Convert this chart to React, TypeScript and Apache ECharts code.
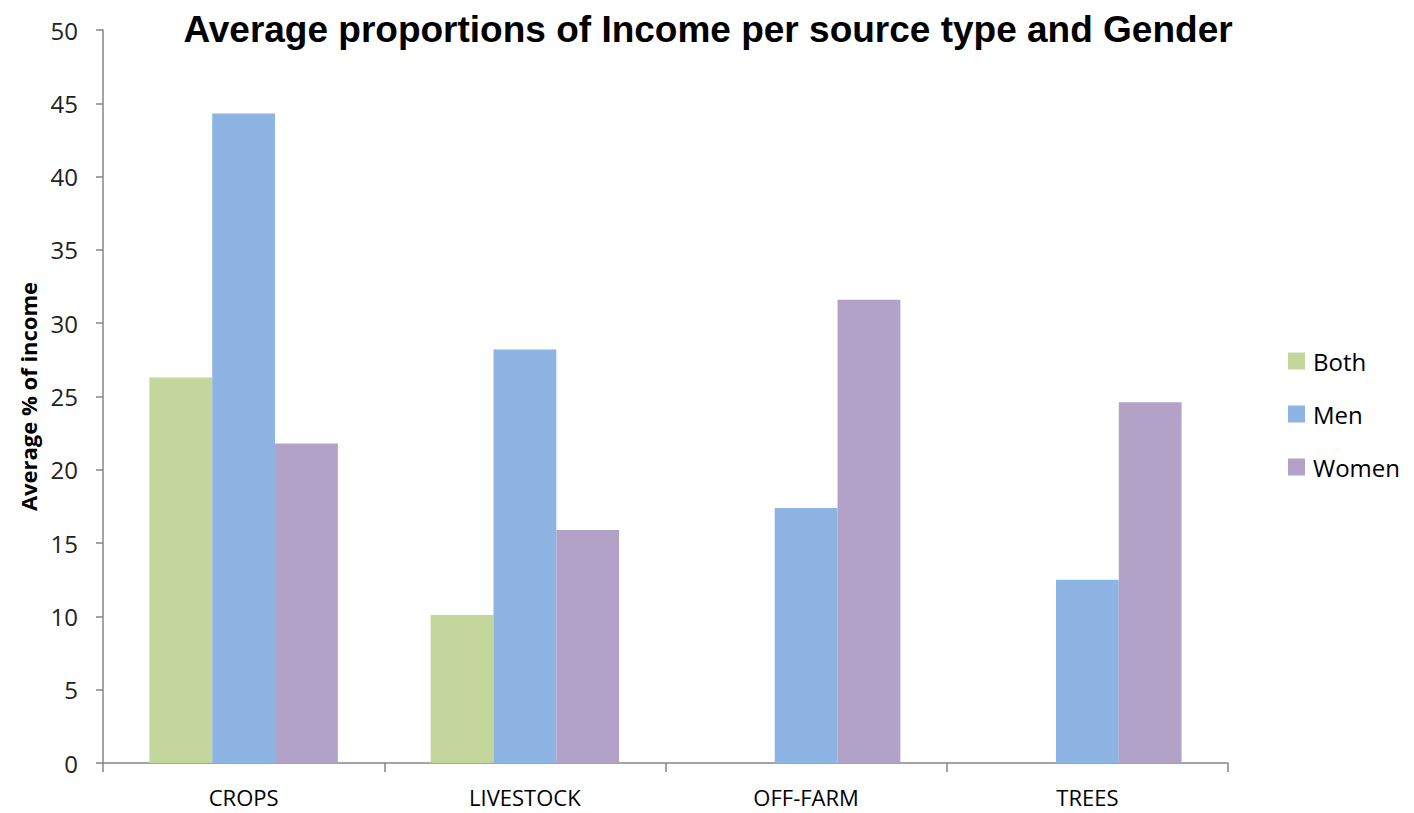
import React, { useEffect, useRef } from "react";
import * as echarts from "echarts";

const categories = ["CROPS", "LIVESTOCK", "OFF-FARM", "TREES"];
const bothValues = [26.3, 10.1, 0, 0];
const menValues = [44.3, 28.2, 17.4, 12.5];
const womenValues = [21.8, 15.9, 31.6, 24.6];
const seriesNames = ["Both", "Men", "Women"];
const seriesColors = ["#C3D69B", "#8EB4E3", "#B3A2C7"];

export default function App() {
  const ref = useRef<HTMLDivElement>(null);
  useEffect(() => {
    if (!ref.current) return;
    const chart = echarts.init(ref.current, undefined, { renderer: "svg" });
    const values = [bothValues, menValues, womenValues];
    chart.setOption({
      animation: false,
      backgroundColor: "#ffffff",
      title: {
        text: "Average proportions of Income per source type and Gender",
        left: 700,
        textAlign: "center",
        top: 0,
        padding: 0,
        textStyle: {
          fontFamily: "Liberation Sans",
          fontWeight: "bold",
          fontSize: 37,
          lineHeight: 42,
          color: "#000",
        },
      },
      legend: {
        orient: "vertical",
        left: 1280,
        top: 341,
        padding: 0,
        itemWidth: 17,
        itemHeight: 17,
        itemGap: 29,
        icon: "rect",
        textStyle: { fontFamily: "Open Sans", fontSize: 24, lineHeight: 24, color: "#000", padding: [0, 0, 0, 3] },
        data: seriesNames,
      },
      grid: { left: 95, right: 178, top: 22, bottom: 50, containLabel: false },
      xAxis: {
        type: "category",
        data: categories,
        axisLine: { lineStyle: { color: "#868686", width: 1.5 } },
        axisTick: { show: true, length: 9, lineStyle: { color: "#868686", width: 1.5 } },
        axisLabel: { fontFamily: "Open Sans", fontSize: 22, lineHeight: 24, color: "#000", margin: 22 },
      },
      yAxis: {
        type: "value",
        min: 0,
        max: 50,
        interval: 5,
        name: "Average % of income",
        nameLocation: "middle",
        nameGap: 64,
        nameTextStyle: { fontFamily: "Open Sans", fontWeight: "bold", fontSize: 22, color: "#000" },
        axisLine: { show: true, lineStyle: { color: "#868686", width: 1.5 } },
        axisTick: { show: true, length: 7, lineStyle: { color: "#868686", width: 1.5 } },
        splitLine: { show: false },
        axisLabel: { fontFamily: "Open Sans", fontSize: 24, color: "#222", margin: 25 },
      },
      series: seriesNames.map((name, i) => ({
        name,
        type: "bar",
        data: values[i],
        barGap: "0%",
        barCategoryGap: "33%",
        itemStyle: { color: seriesColors[i] },
      })),
    });
    return () => chart.dispose();
  }, []);
  return <div ref={ref} style={{ width: 1398, height: 805 }} />;
}
